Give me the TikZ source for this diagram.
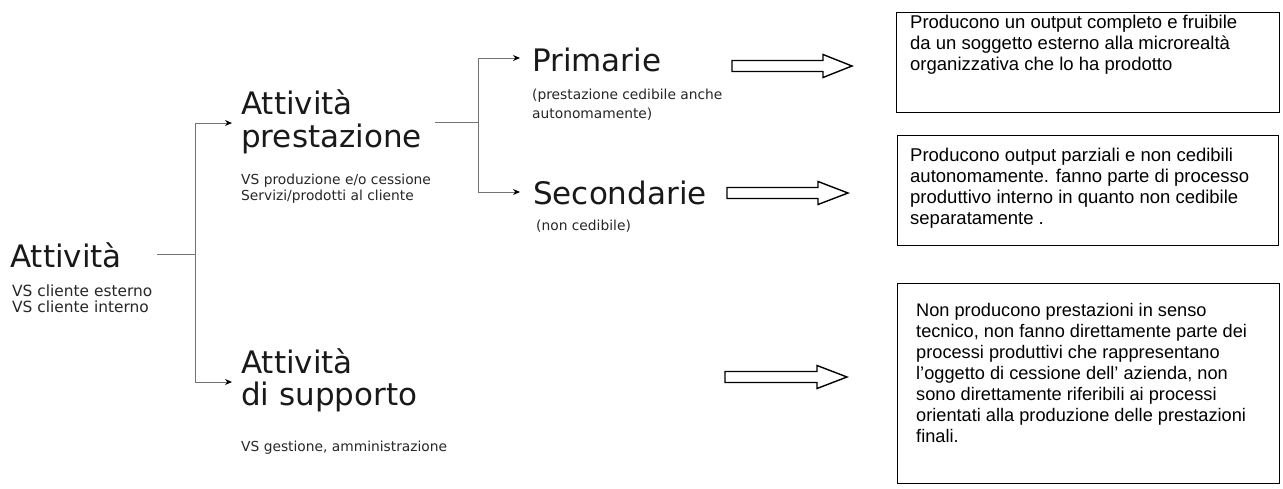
\documentclass[tikz,border=0pt]{standalone}
\usepackage{fontspec}
\usetikzlibrary{arrows.meta}
\newfontfamily\vfont{DejaVu Sans}
\newfontfamily\afont{Liberation Sans}
\tikzset{
  big/.style={anchor=base west, inner sep=0pt, font=\vfont\fontsize{31}{33}\selectfont, text=black!90},
  sml/.style={anchor=base west, inner sep=0pt, font=\vfont\fontsize{13.8}{16}\selectfont, text=black!85},
  rsml/.style={anchor=base west, inner sep=0pt, font=\vfont\fontsize{15.4}{16}\selectfont, text=black!85},
  conn/.style={draw=black!55, line width=1pt},
  tip/.style={-{Stealth[length=7pt,width=6pt,color=black]}},
  box/.style={draw=black, line width=1.4pt},
  boxtext/.style={anchor=north west, inner sep=0pt, align=left, font=\afont\fontsize{18.5}{21}\selectfont},
  boxtextc/.style={anchor=north west, inner sep=0pt, align=left, font=\afont\fontsize{18.2}{21}\selectfont},
  barrow/.style={draw=black, line width=1.4pt, fill=white, line join=miter}
}
\begin{document}
\begin{tikzpicture}[x=1pt,y=-1pt]
\useasboundingbox (0,0) rectangle (1283,488);
% left texts
\node[big] (rootT) at (10,267) {Attività};
\node[rsml] (rootS1) at (12,296) {VS cliente esterno};
\node[rsml] (rootS2) at (12,312) {VS cliente interno};
\node[big] (prestA) at (241,114) {Attività};
\node[big] (prestB) at (241,147) {prestazione};
\node[sml] (prestS1) at (241,184) {VS produzione e/o cessione};
\node[sml] (prestS2) at (241,200) {Servizi/prodotti al cliente};
\node[big] (suppA) at (241,373) {Attività};
\node[big] (suppB) at (241,405) {di supporto};
\node[sml] (suppS) at (241,451) {VS gestione, amministrazione};
\node[big] (prim) at (532,71) {Primarie};
\node[sml] (primS1) at (532,99) {(prestazione cedibile anche};
\node[sml] (primS2) at (532,118) {autonomamente)};
\node[big] (sec) at (533,204) {Secondarie};
\node[sml] (secS) at (536,230) {(non cedibile)};
% tree connectors
\coordinate (j1s) at (157,254);
\coordinate (j1) at (195,254);
\coordinate (t1) at (232,123);
\coordinate (t2) at (232,382);
\draw[conn] (j1s) -- (j1);
\draw[conn,tip] (j1) |- (t1);
\draw[conn,tip] (j1) |- (t2);
\coordinate (j2s) at (435,122);
\coordinate (j2) at (478,122);
\coordinate (t3) at (520,58);
\coordinate (t4) at (520,192);
\draw[conn] (j2s) -- (j2);
\draw[conn,tip] (j2) |- (t3);
\draw[conn,tip] (j2) |- (t4);
% block arrows
\draw[barrow] (732,60.5) -- (823,60.5) -- (823,54.5) -- (852,66) -- (823,77.5) -- (823,71.5) -- (732,71.5) -- cycle;
\draw[barrow] (727,187.5) -- (818,187.5) -- (818,181.5) -- (848,193) -- (818,204.5) -- (818,198.5) -- (727,198.5) -- cycle;
\draw[barrow] (725,371.5) -- (817,371.5) -- (817,365.5) -- (847,377) -- (817,388.5) -- (817,382.5) -- (725,382.5) -- cycle;
% boxes
\node[box, anchor=north west, minimum width=383pt, minimum height=100pt, inner sep=0pt] (b1) at (896,12) {};
\node[box, anchor=north west, minimum width=381pt, minimum height=110pt, inner sep=0pt] (b2) at (897,135) {};
\node[box, anchor=north west, minimum width=382pt, minimum height=200pt, inner sep=0pt] (b3) at (897,283) {};
\node[boxtext] (b1t) at (910,14.5) {Producono un output completo e fruibile\\da un soggetto esterno alla microrealtà\\organizzativa che lo ha prodotto};
\node[boxtext] (b2t) at (910,148) {Producono output parziali e non cedibili\\autonomamente. fanno parte di processo\\produttivo interno in quanto non cedibile\\separatamente .};
\node[boxtextc] (b3t) at (916,303) {Non producono prestazioni in senso\\tecnico, non fanno direttamente parte dei\\processi produttivi che rappresentano\\l’oggetto di cessione dell’ azienda, non\\sono direttamente riferibili ai processi\\orientati alla produzione delle prestazioni\\finali.};
\end{tikzpicture}
\end{document}
